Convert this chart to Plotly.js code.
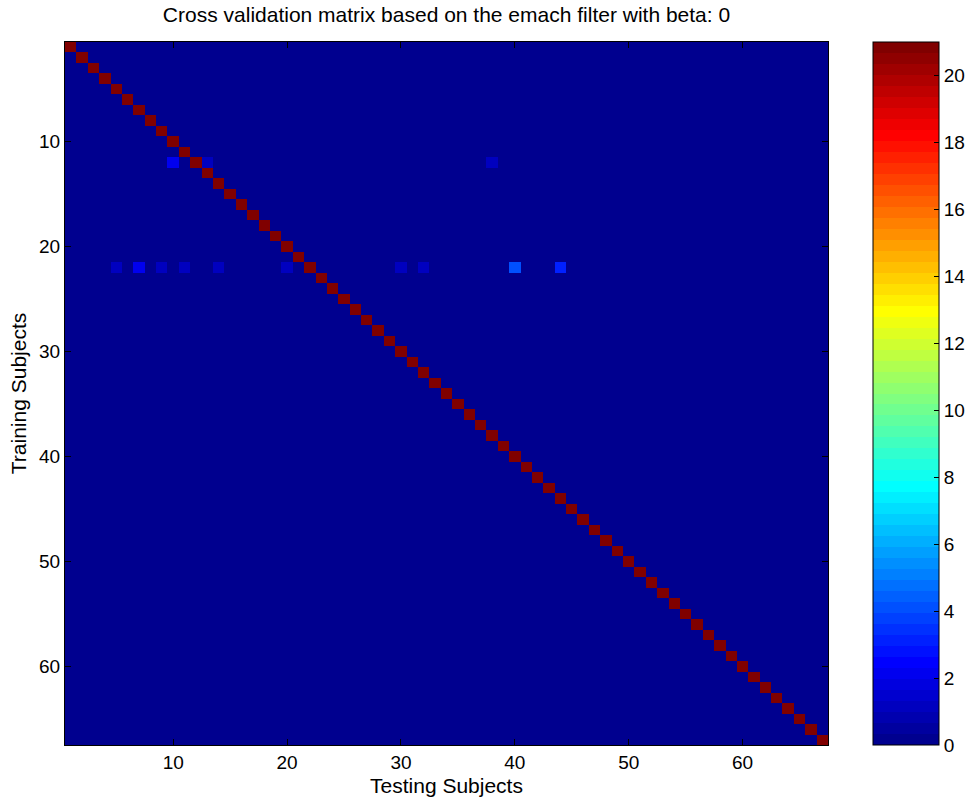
<!DOCTYPE html>
<html>
<head>
<meta charset="utf-8">
<script src="https://cdn.plot.ly/plotly-3.0.1.min.js"></script>
<style>
  html, body { margin: 0; padding: 0; background: #ffffff; }
  #chart { width: 973px; height: 804px; }
</style>
</head>
<body>
<div id="chart"></div>
<script>
// Number of subjects (square matrix: training x testing)
const subjectCount = 67;
// Score on the diagonal (each subject tested against itself)
const diagonalScore = 21;
// Off-diagonal non-zero entries: training subject, testing subject, score
const offTrainRows = [12, 12, 12, 22, 22, 22, 22, 22, 22, 22, 22, 22, 22];
const offTestCols  = [10, 13, 38,  5,  7,  9, 11, 14, 20, 30, 32, 40, 44];
const offScores    = [ 2,  1,  1,  1,  2,  1,  1,  1,  1,  1,  1,  4,  3];
// Colour scale limits and colourbar ticks
const colorMin = 0;
const colorMax = 21;
const colorbarTicks = [0, 2, 4, 6, 8, 10, 12, 14, 16, 18, 20];
const axisTicks = [10, 20, 30, 40, 50, 60];

// Build the subject index list and the score matrix
const subjects = [];
for (let i = 1; i <= subjectCount; i++) subjects.push(i);
const z = subjects.map(r => subjects.map(c => (r === c ? diagonalScore : 0)));
offTrainRows.forEach((r, k) => { z[r - 1][offTestCols[k] - 1] = offScores[k]; });

// 64-level "jet" colormap drawn as discrete bands
function jet64() {
  const m = 64, n = 16;
  const u = [];
  for (let i = 1; i <= n; i++) u.push(i / n);
  for (let i = 1; i < n; i++) u.push(1);
  for (let i = n; i >= 1; i--) u.push(i / n);
  const rgb = [];
  for (let i = 0; i < m; i++) rgb.push([0, 0, 0]);
  for (let j = 0; j < u.length; j++) {
    const g = 8 + (j + 1);
    const r = g + n;
    const b = g - n;
    if (r >= 1 && r <= m) rgb[r - 1][0] = u[j];
    if (g >= 1 && g <= m) rgb[g - 1][1] = u[j];
    if (b >= 1 && b <= m) rgb[b - 1][2] = u[j];
  }
  return rgb.map(c => 'rgb(' + c.map(v => Math.round(v * 255)).join(',') + ')');
}
const jetColors = jet64();
const colorscale = [];
jetColors.forEach((c, i) => {
  colorscale.push([i / 64, c]);
  colorscale.push([(i + 1) / 64, c]);
});

const font = { family: 'Liberation Sans, Arial, sans-serif', color: '#000000' };

const trace = {
  type: 'heatmap',
  x: subjects,
  y: subjects,
  z: z,
  zmin: colorMin,
  zmax: colorMax,
  colorscale: colorscale,
  hoverongaps: false,
  colorbar: {
    x: 1.059,
    xanchor: 'left',
    xpad: 0,
    y: 0.5,
    yanchor: 'middle',
    len: 1,
    ypad: 0,
    thickness: 66,
    thicknessmode: 'pixels',
    outlinewidth: 1,
    outlinecolor: '#000000',
    tickmode: 'array',
    tickvals: colorbarTicks,
    ticktext: colorbarTicks.map(String),
    ticks: 'inside',
    ticklen: 5,
    tickcolor: '#000000',
    tickfont: Object.assign({ size: 19 }, font)
  }
};

const layout = {
  width: 973,
  height: 804,
  paper_bgcolor: '#ffffff',
  plot_bgcolor: '#ffffff',
  margin: { l: 65, r: 145, t: 42, b: 59, autoexpand: false },
  title: {
    text: 'Cross validation matrix based on the emach filter with beta: 0',
    font: Object.assign({ size: 21 }, font),
    x: 0.5,
    xref: 'paper',
    xanchor: 'center',
    y: 1 - 15 / 804,
    yref: 'container',
    yanchor: 'middle'
  },
  xaxis: {
    range: [0.5, subjectCount + 0.5],
    tickmode: 'array',
    tickvals: axisTicks,
    ticks: 'inside',
    ticklen: 6,
    tickcolor: '#000000',
    showline: true,
    linecolor: '#000000',
    linewidth: 1,
    mirror: 'ticks',
    showgrid: false,
    zeroline: false,
    tickfont: Object.assign({ size: 19 }, font),
    title: { text: 'Testing Subjects', font: Object.assign({ size: 21 }, font), standoff: 6 }
  },
  yaxis: {
    range: [subjectCount + 0.5, 0.5],
    tickmode: 'array',
    tickvals: axisTicks,
    ticks: 'inside',
    ticklen: 6,
    tickcolor: '#000000',
    showline: true,
    linecolor: '#000000',
    linewidth: 1,
    mirror: 'ticks',
    showgrid: false,
    zeroline: false,
    tickfont: Object.assign({ size: 19 }, font),
    title: { text: 'Training Subjects', font: Object.assign({ size: 21 }, font), standoff: 6 }
  }
};

Plotly.newPlot('chart', [trace], layout, { displayModeBar: false, staticPlot: true });
</script>
</body>
</html>
